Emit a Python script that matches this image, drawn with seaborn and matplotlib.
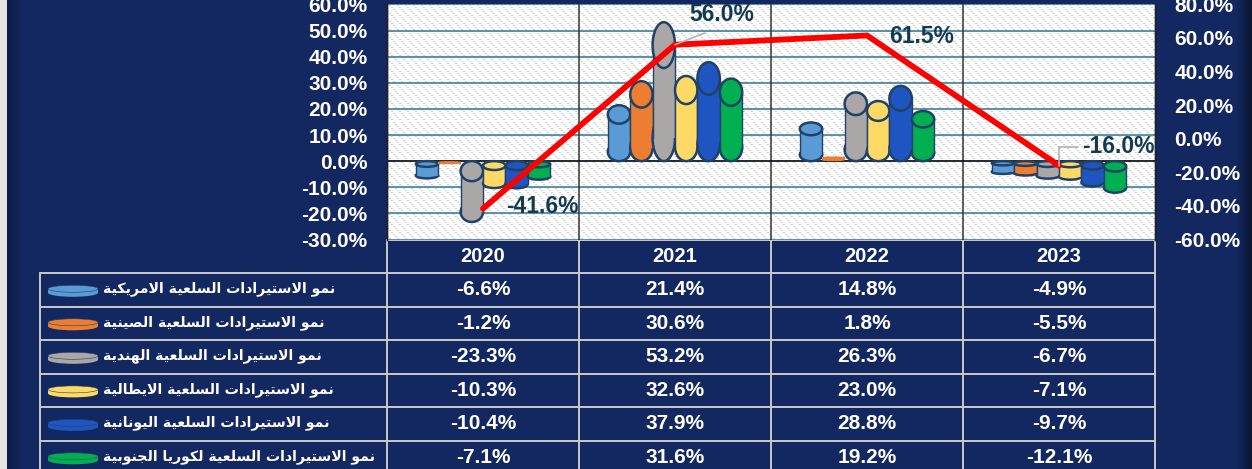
import matplotlib
matplotlib.use("Agg")
import matplotlib.pyplot as plt
import numpy as np
import pandas as pd
import seaborn as sns
from matplotlib.patches import Ellipse, Rectangle
from matplotlib.ticker import FuncFormatter

years = ["2020", "2021", "2022", "2023"]
series_names = [
    "نمو الاستيرادات السلعية الامريكية",
    "نمو الاستيرادات السلعية الصينية",
    "نمو الاستيرادات السلعية الهندية",
    "نمو الاستيرادات السلعية الايطالية",
    "نمو الاستيرادات السلعية اليونانية",
    "نمو الاستيرادات السلعية لكوريا الجنوبية",
]
usa = [-6.6, 21.4, 14.8, -4.9]
china = [-1.2, 30.6, 1.8, -5.5]
india = [-23.3, 53.2, 26.3, -6.7]
italy = [-10.3, 32.6, 23.0, -7.1]
greece = [-10.4, 37.9, 28.8, -9.7]
korea = [-7.1, 31.6, 19.2, -12.1]
total = [-41.6, 56.0, 61.5, -16.0]
colors = ["#5B9BD5", "#ED7D31", "#ABA7A7", "#FFD966", "#1F55C0", "#00B050"]

NAVY = np.array([0x13, 0x28, 0x60]) / 255
EDGE = "#1F4268"
GRID = "#3F7E9C"
LABEL = "#123A52"
TABLE_LINE = "#C9C9C9"
NUM_FONT = "Liberation Sans"

W, H = 1252, 469

# matplotlib does no arabic shaping, so use the presentation forms
FORMS = {
    "ا": (0xFE8D, 0xFE8E), "ب": (0xFE8F, 0xFE90, 0xFE91, 0xFE92),
    "ة": (0xFE93, 0xFE94), "ت": (0xFE95, 0xFE96, 0xFE97, 0xFE98),
    "ج": (0xFE9D, 0xFE9E, 0xFE9F, 0xFEA0), "د": (0xFEA9, 0xFEAA),
    "ر": (0xFEAD, 0xFEAE), "س": (0xFEB1, 0xFEB2, 0xFEB3, 0xFEB4),
    "ص": (0xFEB9, 0xFEBA, 0xFEBB, 0xFEBC), "ط": (0xFEC1, 0xFEC2, 0xFEC3, 0xFEC4),
    "ع": (0xFEC9, 0xFECA, 0xFECB, 0xFECC), "ك": (0xFED9, 0xFEDA, 0xFEDB, 0xFEDC),
    "ل": (0xFEDD, 0xFEDE, 0xFEDF, 0xFEE0), "م": (0xFEE1, 0xFEE2, 0xFEE3, 0xFEE4),
    "ن": (0xFEE5, 0xFEE6, 0xFEE7, 0xFEE8), "ه": (0xFEE9, 0xFEEA, 0xFEEB, 0xFEEC),
    "و": (0xFEED, 0xFEEE), "ي": (0xFEF1, 0xFEF2, 0xFEF3, 0xFEF4),
}


def shape(text):
    out = []
    joins = False  # previous letter connects forward
    i = 0
    while i < len(text):
        ch = text[i]
        if ch not in FORMS:
            out.append(ch)
            joins = False
            i += 1
            continue
        nxt = text[i + 1] if i + 1 < len(text) else " "
        if ch == "ل" and nxt == "ا":
            out.append(chr(0xFEFC if joins else 0xFEFB))
            joins = False
            i += 2
            continue
        f = FORMS[ch]
        if len(f) == 2:
            out.append(chr(f[1] if joins else f[0]))
            joins = False
        else:
            next_letter = nxt in FORMS
            if joins and next_letter:
                out.append(chr(f[3]))
            elif joins:
                out.append(chr(f[1]))
            elif next_letter:
                out.append(chr(f[2]))
            else:
                out.append(chr(f[0]))
            joins = next_letter
        i += 1
    return "".join(reversed(out))


sns.set_theme(style="white")
fig = plt.figure(figsize=(W / 100, H / 100), dpi=100)

# background + table live in a pixel-coordinate axes
bg = fig.add_axes([0, 0, 1, 1], zorder=0)
bg.axis("off")

xs = np.arange(W)
shade = np.ones(W)
shade = np.where(xs < 24, 0.72 + 0.28 * (xs - 6) / 18, shade)
shade = np.where(xs > 1236, 1 - 0.5 * (xs - 1236) / 16, shade)
img = NAVY[None, None, :] * shade[None, :, None]
bg.imshow(img, extent=(0, W, H, 0), aspect="auto", interpolation="nearest", zorder=0)
bg.set_xlim(0, W)
bg.set_ylim(H, 0)
bg.add_patch(Rectangle((0, 0), 6.5, H, color="#E4E4E4", lw=0, zorder=1))

col_x = [387, 579, 771, 963, 1155]
row_y = [240, 273, 306.6, 340, 373.6, 407.2, 440.6, 474]
for x in col_x:
    bg.plot([x, x], [row_y[0], H + 5], color=TABLE_LINE, lw=1.4, zorder=2)
bg.plot([40, 40], [row_y[1], H + 5], color=TABLE_LINE, lw=1.4, zorder=2)
bg.plot([387, 1155], [row_y[0], row_y[0]], color=TABLE_LINE, lw=1.4, zorder=2)
for y in row_y[1:7]:
    bg.plot([40, 1155], [y, y], color=TABLE_LINE, lw=1.4, zorder=2)

for j, yr in enumerate(years):
    bg.text((col_x[j] + col_x[j + 1]) / 2, 256.5, yr, color="white", ha="center", va="center",
            fontsize=14.5, fontweight="bold", family=NUM_FONT, zorder=3)

table_values = [usa, china, india, italy, greece, korea]
for i, name in enumerate(series_names):
    cy = (row_y[i + 1] + row_y[i + 2]) / 2
    for j, v in enumerate(table_values[i]):
        bg.text((col_x[j] + col_x[j + 1]) / 2, cy, f"{v:.1f}%", color="white", ha="center", va="center",
                fontsize=15, fontweight="bold", family=NUM_FONT, zorder=3)
    bg.text(103, cy - 1, shape(name), color="white", ha="left", va="center",
            fontsize=10.2, fontweight="bold", family="DejaVu Sans", zorder=3)
    # flat cylinder legend key
    key_y = cy + 1
    bg.add_patch(Ellipse((73, key_y + 2), 50, 8, fc=colors[i], ec="none", zorder=3))
    bg.add_patch(Rectangle((48, key_y - 2), 50, 4, fc=colors[i], ec="none", zorder=3))
    bg.add_patch(Ellipse((73, key_y - 2), 50, 7, fc=colors[i], ec=EDGE, lw=0.4, zorder=3))

# chart area
left, right = 387 / W, 1155 / W
top_px, bottom_px = 4.4, 239.5
ax = fig.add_axes([left, 1 - bottom_px / H, right - left, (bottom_px - top_px) / H], zorder=1)
ax.set_facecolor("white")

df = pd.DataFrame({
    "year": years * 6,
    "series": [s for s in series_names for _ in years],
    "value": usa + china + india + italy + greece + korea,
})
sns.barplot(data=df, x="year", y="value", hue="series", hue_order=series_names, order=years,
            palette=colors, width=0.7, gap=0, saturation=1, errorbar=None, legend=False, ax=ax, zorder=3)

ax.set_xlim(-0.5, 3.5)
ax.set_ylim(-30, 60)
ax.set_yticks(np.arange(-30, 61, 10))
ax.set_xlabel("")
ax.set_ylabel("")
ax.set_xticks([])

# dashed diagonal fill of the plot area, one cell per pixel
py, px = np.mgrid[0:235, 0:768]
dots = ((px - py) % 8 < 2) & ((px + py) % 4 < 2)
ax.imshow(np.where(dots, 0.80, 1.0), cmap="gray", vmin=0, vmax=1, extent=(0, 1, 0, 1), aspect="auto",
          interpolation="nearest", transform=ax.transAxes, zorder=0)
ax.set_xlim(-0.5, 3.5)
ax.set_ylim(-30, 60)

ax.grid(axis="y", color=GRID, lw=1.2, zorder=1)
ax.set_axisbelow(True)
for b in [0.5, 1.5, 2.5]:
    ax.axvline(b, color="#333333", lw=1.1, zorder=2)
ax.axhline(0, color="#111111", lw=1.1, zorder=2)

# turn the flat bars into cylinders
for k, container in enumerate(ax.containers):
    z = 3 + k * 0.1
    for bar in container:
        x0, w = bar.get_x(), bar.get_width()
        v = bar.get_y() + bar.get_height()
        lo, hi = min(0, v), max(0, v)
        cap = 0.33 * (hi - lo)
        cx = x0 + w / 2
        fc = bar.get_facecolor()
        # tiny bars show no outline at all
        cap_lw = 1.8 if hi - lo > 3 else 0
        side_lw = 1.0 if hi - lo > 3 else 0
        ax.add_patch(Ellipse((cx, lo + cap / 2), w, cap, fc=fc, ec=EDGE, lw=cap_lw, zorder=z))
        bar.set_y(lo + cap / 2)
        bar.set_height(hi - lo - cap)
        bar.set_edgecolor("none")
        bar.set_zorder(z + 0.01)
        if side_lw:
            ax.plot([x0, x0], [lo + cap / 2, hi - cap / 2], color=EDGE, lw=side_lw, zorder=z + 0.02)
            ax.plot([x0 + w, x0 + w], [lo + cap / 2, hi - cap / 2], color=EDGE, lw=side_lw, zorder=z + 0.02)
        ax.add_patch(Ellipse((cx, hi - cap / 2), w, cap, fc=fc, ec=EDGE, lw=cap_lw, zorder=z + 0.03))

ax.tick_params(axis="y", length=0, pad=14, labelsize=15, labelcolor="white")
ax.yaxis.set_major_formatter(FuncFormatter(lambda v, _: f"{v:.1f}%"))
for t in ax.get_yticklabels():
    t.set_fontfamily(NUM_FONT)
    t.set_fontweight("bold")

# total growth line on the secondary axis
ax2 = ax.twinx()
sns.lineplot(x=np.arange(len(years)), y=total, color="#FF0000", lw=4.2, ax=ax2, errorbar=None,
             solid_joinstyle="miter", solid_capstyle="round")
ax2.set_xlim(-0.5, 3.5)
ax2.set_ylim(-60, 80)
ax2.set_yticks(np.arange(-60, 81, 20))
ax2.set_ylabel("")
ax2.grid(False)
ax2.tick_params(axis="y", length=0, pad=14, labelsize=15, labelcolor="white")
ax2.yaxis.set_major_formatter(FuncFormatter(lambda v, _: f"{v:.1f}%"))
for t in ax2.get_yticklabels():
    t.set_fontfamily(NUM_FONT)
    t.set_fontweight("bold")

for a in (ax, ax2):
    a.spines["top"].set_visible(False)
    a.spines["bottom"].set_visible(False)
    a.spines["left"].set_color("#222222")
    a.spines["right"].set_color("#222222")
    a.spines["left"].set_linewidth(1.0)
    a.spines["right"].set_linewidth(1.0)

label_kw = dict(textcoords="offset pixels", color=LABEL, fontsize=16.5, fontweight="bold",
                family=NUM_FONT, ha="center", va="center", annotation_clip=False)
ax2.annotate(f"{total[0]:.1f}%", (0, total[0]), xytext=(59, 2), **label_kw)
ax2.annotate(f"{total[1]:.1f}%", (1, total[1]), xytext=(47, 30),
             arrowprops=dict(arrowstyle="-", color="#B0B0B0", lw=1.2, shrinkA=7, shrinkB=0,
                             relpos=(0.5, 0)), **label_kw)
ax2.annotate(f"{total[2]:.1f}%", (2, total[2]), xytext=(55, -1), **label_kw)
ax2.annotate(f"{total[3]:.1f}%", (3, total[3]), xytext=(59, 19),
             arrowprops=dict(arrowstyle="-", color="#B0B0B0", lw=1.2, shrinkA=32, shrinkB=0,
                             connectionstyle="angle,angleA=0,angleB=90,rad=0"), **label_kw)

fig.savefig("out.png", dpi=100, facecolor=NAVY)
